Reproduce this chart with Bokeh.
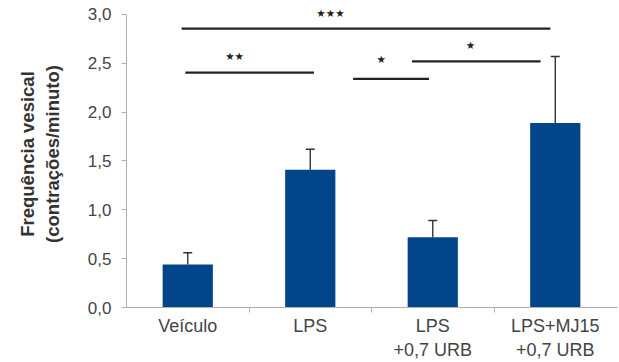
from bokeh.plotting import figure
from bokeh.models import Range1d, FixedTicker, Whisker, TeeHead, ColumnDataSource
from bokeh.core.properties import value
from bokeh.embed import file_html
from bokeh.resources import INLINE

# ---- data ----
categories = ["Veículo", "LPS", "LPS\n+0,7 URB", "LPS+MJ15\n+0,7 URB"]
means = [0.44, 1.41, 0.72, 1.89]
errors = [0.12, 0.21, 0.17, 0.68]

y_ticks = [0.0, 0.5, 1.0, 1.5, 2.0, 2.5, 3.0]
y_tick_labels = ["0,0", "0,5", "1,0", "1,5", "2,0", "2,5", "3,0"]

# significance brackets (x in category units, y in data units)
sig_x0 = [0.45, 0.48, 1.85, 2.33]
sig_x1 = [3.46, 1.53, 2.47, 3.38]
sig_y = [2.855, 2.405, 2.34, 2.52]
sig_label = ["★★★", "★★", "★", "★"]
sig_label_x = [1.665, 0.882, 2.08, 2.808]
sig_label_y = [3.02, 2.57, 2.54, 2.69]

# ---- figure ----
p = figure(width=619, height=362, output_backend="svg", toolbar_location=None,
           x_range=Range1d(0, 4.008), y_range=Range1d(0, 3.143),
           min_border_left=126, min_border_right=2, min_border_top=0, min_border_bottom=55)
p.outline_line_color = None
p.xgrid.visible = False
p.ygrid.visible = False
p.background_fill_color = "white"
p.border_fill_color = "white"

centers = [i + 0.5 for i in range(len(categories))]
src = ColumnDataSource(dict(x=centers, top=means,
                            upper=[m + e for m, e in zip(means, errors)]))

p.vbar(x="x", top="top", width=0.41, bottom=0, source=src,
       fill_color="#03458B", line_color=None)

w = Whisker(base="x", lower="top", upper="upper", source=src,
            line_color="#333333", line_width=1.4,
            upper_head=TeeHead(size=9, line_color="#333333", line_width=1.4),
            lower_head=None)
p.add_layout(w)

p.segment(x0=sig_x0, x1=sig_x1, y0=sig_y, y1=sig_y, line_color="#222222", line_width=2.3)
p.text(x=sig_label_x, y=sig_label_y, text=sig_label, text_align="center",
       text_baseline="middle", text_font_size="10.5px", text_color="#222222",
       text_font=value("DejaVu Sans"))

# y axis
ya = p.yaxis[0]
ya.ticker = FixedTicker(ticks=y_ticks)
ya.major_label_overrides = {t: l for t, l in zip(y_ticks, y_tick_labels)}
ya.bounds = (0, 3)
ya.minor_tick_line_color = None
ya.major_tick_in = 0
ya.major_tick_out = 5
ya.axis_line_color = "#b0b0b0"
ya.major_tick_line_color = "#b0b0b0"
ya.major_label_text_font = "Liberation Sans"
ya.major_label_text_font_size = "17px"
ya.major_label_text_color = "#444444"
ya.major_label_standoff = 10
ya.axis_label = "Frequência vesical\n(contrações/minuto)"
ya.axis_label_text_font = "Liberation Sans"
ya.axis_label_text_font_style = "bold"
ya.axis_label_text_font_size = "18.5px"
ya.axis_label_text_color = "#333333"
ya.axis_label_standoff = 22

# x axis
xa = p.xaxis[0]
xa.ticker = FixedTicker(ticks=centers, minor_ticks=[1, 2, 3])
xa.major_label_overrides = {c: l for c, l in zip(centers, categories)}
xa.major_tick_in = 0
xa.major_tick_out = 0
xa.minor_tick_in = 0
xa.minor_tick_out = 5
xa.axis_line_color = "#b0b0b0"
xa.minor_tick_line_color = "#b0b0b0"
xa.major_label_text_font = "Liberation Sans"
xa.major_label_text_font_size = "18px"
xa.major_label_text_color = "#444444"
xa.major_label_standoff = 3

open("out.html", "w").write(file_html(p, INLINE))
